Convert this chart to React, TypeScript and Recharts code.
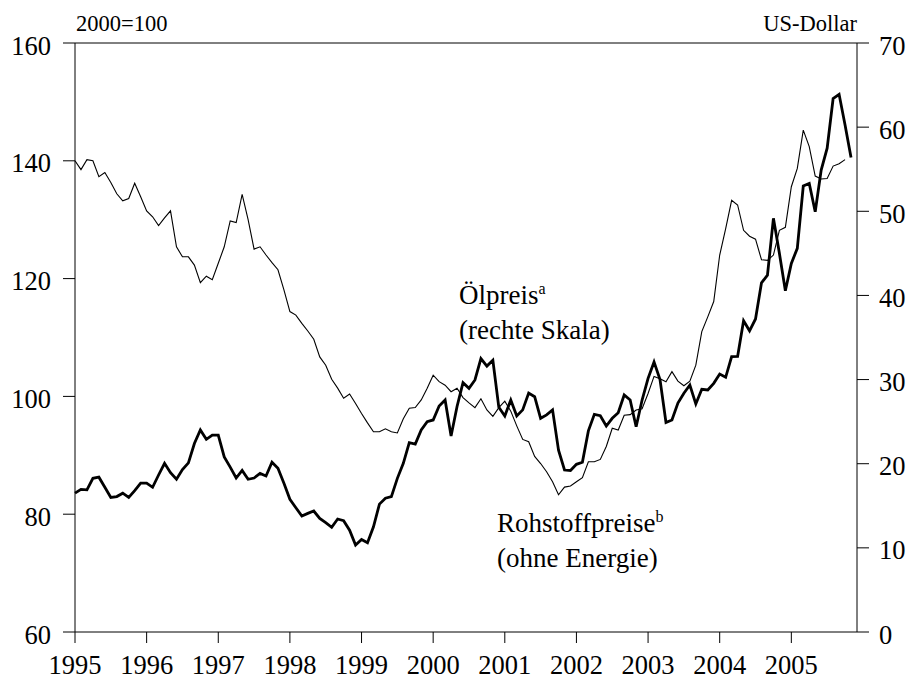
import React from "react";
import {
  ComposedChart,
  Line,
  XAxis,
  YAxis,
  ReferenceLine,
  Customized,
} from "recharts";

// Monatswerte Jan 1995 – Nov 2005
const YEARS = ["1995", "1996", "1997", "1998", "1999", "2000", "2001", "2002", "2003", "2004", "2005"];

// Ölpreis in US-Dollar (rechte Skala)
const OIL = [
  16.5, 16.95, 16.9, 18.26, 18.4, 17.2, 16.0, 16.1, 16.5, 16.0, 16.8, 17.7,
  17.7, 17.2, 18.66, 20.05, 18.93, 18.15, 19.3, 20.1, 22.4, 24.0, 22.9, 23.4,
  23.4, 20.8, 19.6, 18.3, 19.2, 18.15, 18.3, 18.85, 18.54, 20.17, 19.45, 17.67,
  15.77, 14.77, 13.78, 14.1, 14.38, 13.5, 13.0, 12.44, 13.43, 13.23, 12.1, 10.34,
  11.0, 10.6, 12.5, 15.2, 15.9, 16.08, 18.26, 20.05, 22.5, 22.34, 24.0, 25.0,
  25.2, 26.86, 27.57, 23.3, 26.8, 29.63, 28.96, 29.95, 32.5, 31.6, 32.3, 26.7,
  25.67, 27.57, 25.67, 26.4, 28.4, 27.96, 25.4, 25.8, 26.4, 21.6, 19.25, 19.2,
  19.93, 20.17, 23.9, 25.87, 25.7, 24.48, 25.4, 26.06, 28.17, 27.57, 24.4, 27.57,
  30.15, 32.1, 30.0, 24.9, 25.2, 27.2, 28.37, 29.35, 27.1, 28.84, 28.76, 29.55,
  30.66, 30.27, 32.72, 32.75, 37.0, 35.8, 37.2, 41.5, 42.4, 49.16, 45.0, 40.56,
  43.8, 45.6, 53.0, 53.3, 49.95, 54.9, 57.5, 63.4, 63.9, 60.25, 56.4,
];

// Rohstoffpreise ohne Energie, 2000=100 (linke Skala)
const ROHSTOFF = [
  140, 138.5, 140.2, 140, 137.3, 138, 136.3, 134.4, 133.2, 133.6, 136.2, 133.9,
  131.5, 130.5, 129, 130.3, 131.5, 125.4, 123.7, 123.7, 122.3, 119.3, 120.4, 119.8,
  122.6, 125.4, 129.8, 129.5, 134.3, 130, 125, 125.4, 124, 122.7, 121.5, 118.1,
  114.4, 113.8, 112.4, 111.1, 109.7, 106.7, 105.3, 102.9, 101.4, 99.7, 100.4, 98.8,
  97.1, 95.5, 94, 94, 94.5, 94, 93.8, 96.2, 98, 98.1, 99.4, 101.4,
  103.6, 102.5, 101.9, 100.8, 101.4, 99.8, 98.9, 98.1, 99.6, 97.7, 96.6, 98.1,
  99.2, 97.5, 95, 92.7, 92.3, 89.8, 88.6, 87.2, 85.5, 83.3, 84.6, 84.8,
  85.5, 86.2, 88.9, 88.9, 89.3, 91.5, 94.6, 94.3, 96.8, 96.9, 97.7, 97.9,
  100.5, 103.4, 103, 102.5, 104.2, 102.6, 101.8, 102.6, 105.3, 111, 113.5, 116.1,
  124, 128.5, 133.3, 132.5, 128.2, 127.2, 126.7, 123.2, 123.1, 124, 128.2, 128.7,
  135.6, 138.7, 145.2, 142.4, 137.4, 136.9, 137, 139.1, 139.5, 140.2,
];

const LEFT_TICKS = [60, 80, 100, 120, 140, 160];
const RIGHT_TICKS = [0, 10, 20, 30, 40, 50, 60, 70];

const FONT = "Liberation Serif";
const INK = "#000000";
const FS = 26.5;
const TXT = { fontFamily: FONT, fill: INK };

const data = OIL.map((v, i) => ({ m: i, oil: v, rohstoff: ROHSTOFF[i] ?? null }));
const yearTicks = YEARS.map((_, i) => i * 12);

function LeftTick({ x, y, payload }: any) {
  return (
    <text x={x} y={y} dy={11.5} textAnchor="end" fontSize={FS} style={TXT}>
      {payload.value}
    </text>
  );
}

function RightTick({ x, y, payload }: any) {
  return (
    <text x={x} y={y} dy={11.5} textAnchor="start" fontSize={FS} style={TXT}>
      {payload.value}
    </text>
  );
}

function YearTick({ x, y, payload }: any) {
  return (
    <text x={x} y={y} dy={31} textAnchor="middle" fontSize={FS} style={TXT}>
      {YEARS[Math.round(payload.value / 12)]}
    </text>
  );
}

function Notes() {
  return (
    <g>
      <text x={76} y={31} fontSize={22.5} style={TXT}>2000=100</text>
      <text x={857} y={31} fontSize={22.5} textAnchor="end" style={TXT}>US-Dollar</text>
      <text x={459} y={304} fontSize={27} style={TXT}>
        Ölpreis<tspan fontSize={16} dy={-10}>a</tspan>
      </text>
      <text x={459} y={339} fontSize={27} style={TXT}>(rechte Skala)</text>
      <text x={497} y={532} fontSize={27} style={TXT}>
        Rohstoffpreise<tspan fontSize={16} dy={-10}>b</tspan>
      </text>
      <text x={497} y={567} fontSize={27} style={TXT}>(ohne Energie)</text>
    </g>
  );
}

export default function App() {
  return (
    <div style={{ position: "absolute", left: 0, top: 0, background: "#fff", fontFamily: FONT }}>
      <ComposedChart width={913} height={679} data={data} margin={{ top: 43, right: 0, left: 0, bottom: 0 }}>
        <XAxis
          dataKey="m"
          type="number"
          domain={[0, 131]}
          ticks={yearTicks}
          tick={<YearTick />}
          tickSize={11}
          tickMargin={0}
          height={47}
          axisLine={{ stroke: INK }}
          tickLine={{ stroke: INK }}
        />
        <YAxis
          yAxisId="L"
          domain={[60, 160]}
          ticks={LEFT_TICKS}
          width={75}
          tickSize={12}
          tickMargin={12}
          tick={<LeftTick />}
          axisLine={{ stroke: INK }}
          tickLine={{ stroke: INK }}
        />
        <YAxis
          yAxisId="R"
          orientation="right"
          domain={[0, 70]}
          ticks={RIGHT_TICKS}
          width={56}
          tickSize={12}
          tickMargin={10}
          tick={<RightTick />}
          axisLine={{ stroke: INK }}
          tickLine={{ stroke: INK }}
        />
        <ReferenceLine yAxisId="L" y={160} stroke={INK} />
        <Line
          yAxisId="L"
          dataKey="rohstoff"
          type="linear"
          stroke={INK}
          strokeWidth={1.1}
          dot={false}
          isAnimationActive={false}
        />
        <Line
          yAxisId="R"
          dataKey="oil"
          type="linear"
          stroke={INK}
          strokeWidth={2.8}
          dot={false}
          isAnimationActive={false}
        />
        <Customized component={<Notes />} />
      </ComposedChart>
    </div>
  );
}
